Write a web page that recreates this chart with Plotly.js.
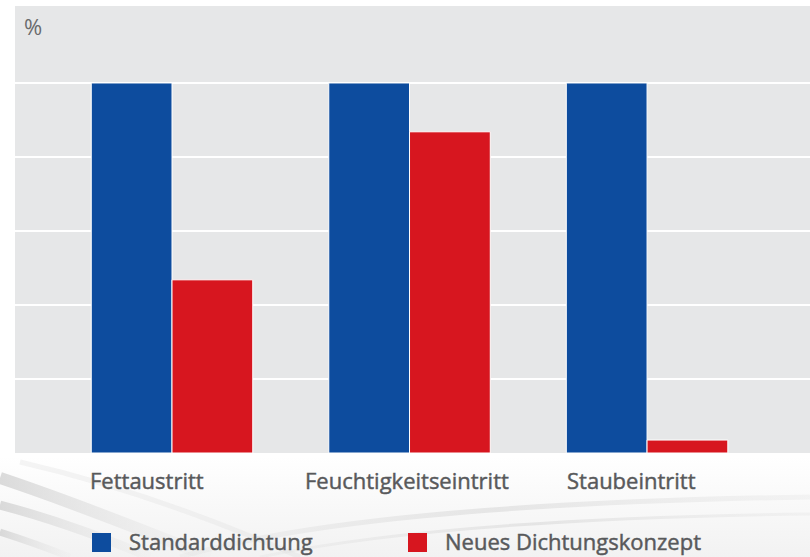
<!DOCTYPE html>
<html>
<head>
<meta charset="utf-8">
<script src="https://cdn.plot.ly/plotly-3.0.1.min.js"></script>
<style>
html,body{margin:0;padding:0;}
#wrap{position:relative;width:810px;height:557px;overflow:hidden;
background:linear-gradient(to bottom,#ffffff 0%,#ffffff 82%,#f2f2f2 100%);}
#bg{position:absolute;left:0;top:0;}
#chart{position:absolute;left:0;top:0;width:810px;height:557px;}
#chart text.annotation-text{stroke:#58595b;stroke-width:0.45px;paint-order:stroke;}
#chart g.annotation[data-index="3"] text.annotation-text{stroke:none;}
</style>
</head>
<body>
<div id="wrap">
<svg id="bg" width="810" height="557" viewBox="0 0 810 557">
  <defs>
    <linearGradient id="fadeR" x1="0" x2="1" y1="0" y2="0">
      <stop offset="0" stop-color="#cccccc" stop-opacity="0.7"/>
      <stop offset="0.6" stop-color="#d8d8d8" stop-opacity="0.35"/>
      <stop offset="1" stop-color="#e0e0e0" stop-opacity="0.1"/>
    </linearGradient>
    <linearGradient id="fadeW" x1="0" x2="1" y1="0" y2="0">
      <stop offset="0" stop-color="#d9d9d9" stop-opacity="0.2"/>
      <stop offset="0.5" stop-color="#d3d3d3" stop-opacity="0.5"/>
      <stop offset="1" stop-color="#dcdcdc" stop-opacity="0.25"/>
    </linearGradient>
  </defs>
  <path d="M0,478 C60,498 130,525 210,557" stroke="url(#fadeR)" stroke-width="12" fill="none"/>
  <path d="M0,505 C50,518 100,536 150,557" stroke="url(#fadeR)" stroke-width="9" fill="none"/>
  <path d="M0,532 C25,540 50,549 70,557" stroke="url(#fadeR)" stroke-width="7" fill="none"/>
  <path d="M20,462 C120,485 220,522 300,557" stroke="#d6d6d6" stroke-opacity="0.25" stroke-width="5" fill="none"/>
  <path d="M180,557 C300,522 500,502 810,497" stroke="url(#fadeW)" stroke-width="5" fill="none"/>
  <path d="M260,557 C380,532 560,517 810,514" stroke="url(#fadeW)" stroke-width="3" fill="none"/>
</svg>
<div id="chart"></div>
</div>
<script>
// ---- data ----
const categories = ["Fettaustritt", "Feuchtigkeitseintritt", "Staubeintritt"];
const seriesNames = ["Standarddichtung", "Neues Dichtungskonzept"];
const standardValues = [100, 100, 100];
const neuValues = [46.8, 86.8, 3.5];
const gridTicks = [0, 20, 40, 60, 80, 100];
const unitLabel = "%";

const colors = ["#0d4c9e", "#d7161f"];
const textColor = "#58595b";
const fontFam = "'Open Sans', 'Noto Sans', sans-serif";

const traces = [
  {type: "bar", x: categories, y: standardValues, name: seriesNames[0],
   marker: {color: colors[0], line: {color: "#ffffff", width: 1}}, hoverinfo: "y"},
  {type: "bar", x: categories, y: neuValues, name: seriesNames[1],
   marker: {color: colors[1], line: {color: "#ffffff", width: 1}}, hoverinfo: "y"}
];

// category label offsets (px) relative to category centre
const labelShift = [-25, -3, -16];
const annotations = categories.map((c, i) => ({
  x: c, xref: "x", y: 0, yref: "y", yanchor: "middle", yshift: -27,
  xanchor: "center", xshift: labelShift[i], showarrow: false,
  text: c, font: {family: fontFam, size: 22, color: textColor}
}));
annotations.push({
  x: 7 / 795, xref: "paper", y: (453 - 26) / 447, yref: "paper",
  xanchor: "left", yanchor: "middle", showarrow: false,
  text: unitLabel, font: {family: fontFam, size: 22, color: "#6a6b6d"}
});
// custom legend
const legX = [(127 - 15) / 795, (443 - 15) / 795];
const sqX = [[92, 111], [408, 427]];
const shapes = [];
seriesNames.forEach((n, i) => {
  annotations.push({
    x: legX[i], xref: "paper", y: (453 - 541) / 447, yref: "paper",
    xanchor: "left", yanchor: "middle", showarrow: false,
    text: n, font: {family: fontFam, size: 22, color: textColor}
  });
  shapes.push({
    type: "rect", xref: "paper", yref: "paper",
    x0: (sqX[i][0] - 15) / 795, x1: (sqX[i][1] - 15) / 795,
    y0: (453 - 552) / 447, y1: (453 - 533) / 447,
    fillcolor: colors[i], line: {width: 0}
  });
});

const layout = {
  width: 810, height: 557,
  margin: {l: 15, r: 0, t: 6, b: 104, pad: 0},
  paper_bgcolor: "rgba(0,0,0,0)",
  plot_bgcolor: "#e6e7e8",
  barmode: "group", bargap: 0.32, bargroupgap: 0,
  showlegend: false,
  xaxis: {type: "category", range: [-0.661, 2.686], showticklabels: false,
          showgrid: false, zeroline: false, showline: false, ticks: "", fixedrange: true},
  yaxis: {range: [0, 120.8], tickvals: gridTicks, showticklabels: false,
          showgrid: true, gridcolor: "#ffffff", gridwidth: 2,
          zeroline: false, showline: false, ticks: "", fixedrange: true},
  annotations: annotations,
  shapes: shapes,
  font: {family: fontFam, color: textColor}
};

Plotly.newPlot("chart", traces, layout, {displayModeBar: false, staticPlot: true});
</script>
</body>
</html>
